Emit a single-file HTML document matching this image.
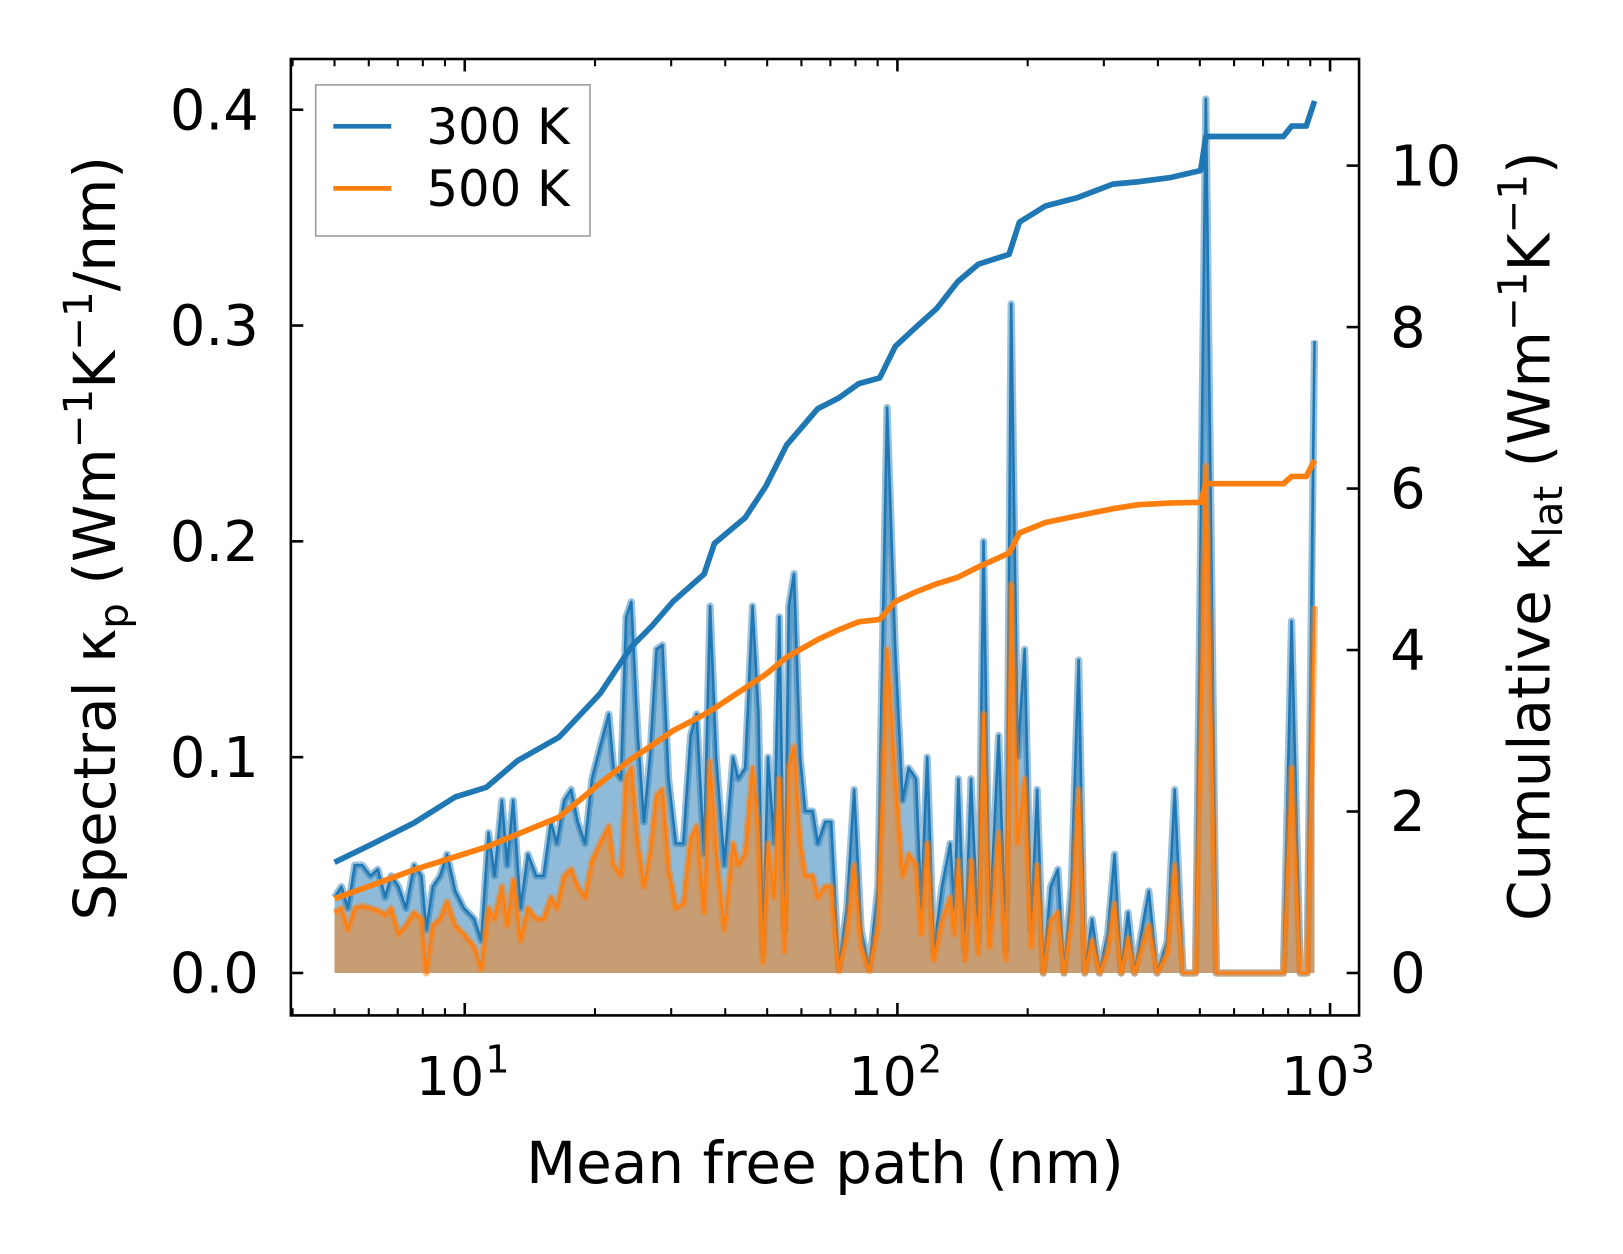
<!DOCTYPE html>
<html><head><meta charset="utf-8"><style>
html,body{margin:0;padding:0;background:#fff}
svg{display:block;font-family:"DejaVu Sans","Liberation Sans",sans-serif}
</style></head><body>
<svg id="chart" width="1623" height="1254" viewBox="0 0 1623 1254" xmlns="http://www.w3.org/2000/svg">
<rect width="1623" height="1254" fill="#fff"/>
<g transform="scale(1.03508)">
<g id="plot"></g>
<rect x="281" y="57" width="1032" height="924" fill="none" stroke="#000" stroke-width="2.5"/>
<g id="ticks"></g>
<g>
<rect x="305" y="82" width="265" height="146" fill="#fff" fill-opacity="0.8" stroke="#999" stroke-width="1.5"/>
<line x1="322" y1="122" x2="378" y2="122" stroke="#1f77b4" stroke-width="4.5"/>
<text x="412" y="139" font-size="48">300 K</text>
<line x1="322" y1="182" x2="378" y2="182" stroke="#ff7f0e" stroke-width="4.5"/>
<text x="412" y="199" font-size="48">500 K</text>
</g>
<text x="797" y="1143" font-size="56" text-anchor="middle">Mean free path (nm)</text>
<text transform="translate(111,520) rotate(-90)" font-size="56" text-anchor="middle">Spectral κ<tspan font-size="39" dy="12">p</tspan><tspan dy="-12"> (Wm</tspan><tspan font-size="39" dy="-22">−1</tspan><tspan dy="22">K</tspan><tspan font-size="39" dy="-22">−1</tspan><tspan dy="22">/nm)</tspan></text>
<text transform="translate(1497,518) rotate(-90)" font-size="56" text-anchor="middle">Cumulative κ<tspan font-size="39" dy="12">lat</tspan><tspan dy="-12"> (Wm</tspan><tspan font-size="39" dy="-22">−1</tspan><tspan dy="22">K</tspan><tspan font-size="39" dy="-22">−1</tspan><tspan dy="22">)</tspan></text>
</g>
</svg>
<script>
const mfpLog10 = [0.699,0.715,0.730,0.746,0.763,0.782,0.799,0.816,0.830,0.847,0.864,0.883,0.900,0.911,0.926,0.943,0.959,0.978,0.998,1.022,1.038,1.055,1.069,1.086,1.098,1.112,1.129,1.146,1.165,1.182,1.199,1.213,1.230,1.246,1.261,1.278,1.294,1.313,1.333,1.344,1.361,1.373,1.385,1.400,1.414,1.428,1.443,1.457,1.471,1.488,1.505,1.522,1.536,1.553,1.567,1.581,1.600,1.620,1.632,1.648,1.665,1.679,1.689,1.701,1.715,1.727,1.739,1.749,1.761,1.775,1.787,1.804,1.816,1.833,1.847,1.864,1.883,1.900,1.916,1.935,1.955,1.976,1.995,2.012,2.026,2.043,2.055,2.069,2.084,2.103,2.122,2.132,2.141,2.156,2.170,2.187,2.199,2.213,2.234,2.251,2.263,2.278,2.294,2.309,2.323,2.337,2.354,2.371,2.385,2.402,2.419,2.433,2.450,2.467,2.486,2.502,2.517,2.533,2.548,2.565,2.581,2.600,2.624,2.641,2.660,2.689,2.713,2.737,2.892,2.911,2.931,2.947,2.964];
const spec300 = [.035,.040,.030,.050,.050,.045,.048,.035,.045,.040,.030,.050,.045,.020,.040,.045,.055,.038,.030,.025,.015,.065,.045,.080,.050,.080,.030,.055,.045,.045,.070,.060,.080,.085,.070,.060,.090,.105,.120,.095,.090,.165,.172,.110,.070,.100,.150,.152,.090,.060,.060,.110,.120,.055,.170,.100,.050,.100,.090,.095,.170,.120,.010,.100,.060,.165,.020,.170,.185,.100,.075,.075,.060,.070,.070,.002,.030,.085,.020,.002,.040,.262,.150,.080,.095,.090,.030,.100,.010,.040,.060,.030,.090,.010,.090,.015,.200,.020,.110,.010,.310,.100,.150,.020,.085,.000,.040,.048,.000,.040,.145,.000,.025,.000,.018,.055,.000,.028,.000,.020,.038,.000,.015,.085,.000,.000,.405,.000,.000,.163,.000,.000,.293];
const spec500 = [.028,.030,.020,.030,.031,.030,.029,.027,.030,.018,.022,.028,.025,.000,.022,.025,.033,.022,.018,.012,.002,.030,.025,.040,.022,.043,.015,.030,.025,.025,.035,.030,.045,.048,.040,.035,.052,.060,.068,.050,.045,.090,.095,.060,.040,.055,.082,.085,.048,.030,.032,.062,.068,.028,.098,.056,.020,.060,.050,.055,.095,.065,.005,.060,.035,.090,.010,.095,.105,.060,.045,.045,.035,.040,.040,.001,.018,.050,.012,.001,.022,.150,.090,.045,.055,.050,.018,.060,.006,.024,.035,.018,.052,.006,.052,.009,.120,.012,.065,.006,.180,.060,.090,.012,.050,.000,.024,.028,.000,.024,.085,.000,.015,.000,.010,.032,.000,.016,.000,.012,.022,.000,.009,.050,.000,.000,.235,.000,.000,.095,.000,.000,.170];
const cumMfpLog10 = [0.699,0.787,0.883,0.978,1.050,1.122,1.218,1.313,1.385,1.433,1.481,1.553,1.577,1.648,1.696,1.744,1.816,1.864,1.911,1.959,1.995,2.043,2.091,2.139,2.187,2.258,2.282,2.342,2.414,2.498,2.557,2.629,2.701,2.713,2.892,2.911,2.945,2.964];
const cum300 = [1.37,1.6,1.86,2.18,2.3,2.63,2.92,3.46,4.04,4.3,4.6,4.94,5.32,5.64,6.03,6.54,6.99,7.12,7.3,7.37,7.76,8.0,8.23,8.56,8.78,8.9,9.3,9.5,9.6,9.77,9.8,9.85,9.94,10.36,10.36,10.49,10.49,10.8];
const cum500 = [0.92,1.09,1.28,1.44,1.56,1.72,1.93,2.35,2.65,2.82,3.0,3.2,3.28,3.53,3.7,3.91,4.13,4.25,4.35,4.38,4.6,4.72,4.82,4.9,5.03,5.2,5.45,5.58,5.66,5.75,5.8,5.82,5.83,6.06,6.06,6.15,6.15,6.35];
const leftTicks = [0,0.1,0.2,0.3,0.4];
const leftTickLabels = ["0.0","0.1","0.2","0.3","0.4"];
const rightTicks = [0,2,4,6,8,10];
const decadeTicks = [1,2,3];

const NS="http://www.w3.org/2000/svg";
function xS(l){return 449+(l-1)*418;}
function yL(v){return 940-v*2085;}
function yR(v){return 940-v*78;}
function mk(tag,attrs,parent){const e=document.createElementNS(NS,tag);for(const k in attrs)e.setAttribute(k,attrs[k]);parent.appendChild(e);return e;}
const plot=document.getElementById('plot'), ticks=document.getElementById('ticks');

function specSeries(vals,color,name){
  let pts=mfpLog10.map((l,i)=>xS(l).toFixed(1)+','+yL(vals[i]).toFixed(1));
  const base=yL(0);
  const area=mk('polygon',{points:xS(mfpLog10[0])+','+base+' '+pts.join(' ')+' '+xS(mfpLog10[mfpLog10.length-1])+','+base,fill:color,'fill-opacity':0.5},plot);
  
  
  const halo=mk('polyline',{points:pts.join(' '),fill:'none',stroke:color,'stroke-opacity':0.45,'stroke-width':7,'stroke-linejoin':'round'},plot);
  
  
  const ln=mk('polyline',{points:pts.join(' '),fill:'none',stroke:color,'stroke-width':2.5,'stroke-linejoin':'round'},plot);
  
  
}
specSeries(spec300,'#1f77b4','spectral-300k');
specSeries(spec500,'#ff7f0e','spectral-500k');
function cumSeries(vals,color,name){
  const pts=cumMfpLog10.map((l,i)=>xS(l).toFixed(1)+','+yR(vals[i]).toFixed(1));
  const ln=mk('polyline',{points:pts.join(' '),fill:'none',stroke:color,'stroke-width':5.5,'stroke-linejoin':'round'},plot);
  
  
}
cumSeries(cum300,'#1f77b4','cumulative-300k');
cumSeries(cum500,'#ff7f0e','cumulative-500k');

leftTicks.forEach((v,i)=>{
  const y=yL(v);
  const t=mk('line',{x1:281,y1:y,x2:293,y2:y,stroke:'#000','stroke-width':2.5},ticks);
  
  
  const tx=mk('text',{x:250,y:y+19,'font-size':54,'text-anchor':'end'},ticks);
  tx.textContent=leftTickLabels[i];
  
  
});
rightTicks.forEach(v=>{
  const y=yR(v);
  const t=mk('line',{x1:1301,y1:y,x2:1313,y2:y,stroke:'#000','stroke-width':2.5},ticks);
  
  
  const tx=mk('text',{x:1343,y:y+19,'font-size':54},ticks);
  tx.textContent=String(v);
  
  
});
for(let d=0;d<=3;d++){
  for(let m=1;m<=9;m++){
    const l=d+Math.log10(m);
    const x=xS(l);
    if(x<281||x>1313)continue;
    const len=m===1?12:7;
    const b=mk('line',{x1:x,y1:981,x2:x,y2:981-len,stroke:'#000','stroke-width':m===1?2.5:2},ticks);
    
    
    const t=mk('line',{x1:x,y1:57,x2:x,y2:57+len,stroke:'#000','stroke-width':m===1?2.5:2},ticks);
    
    
  }
}
decadeTicks.forEach(d=>{
  const tx=mk('text',{x:xS(d)-2,y:1058,'font-size':52,'text-anchor':'middle'},ticks);
  tx.textContent='10';
  const s=document.createElementNS(NS,'tspan');
  s.setAttribute('font-size','37');s.setAttribute('dy','-22');s.setAttribute('dx','1');
  s.textContent=String(d);
  tx.appendChild(s);
  
  
});
</script>
</body></html>
